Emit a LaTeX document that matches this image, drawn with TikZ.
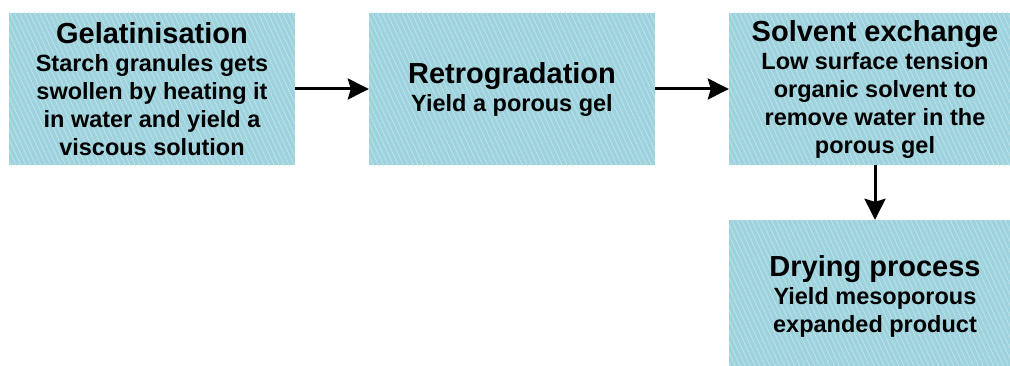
\documentclass[tikz,border=0pt]{standalone}
\usepackage{fontspec}
\setmainfont{Liberation Sans}
\usetikzlibrary{arrows.meta,patterns.meta}
\definecolor{boxfill}{HTML}{9ED3DE}
\newcommand\stagetitle[1]{{\fontsize{29}{32}\selectfont #1}}
\tikzset{
  stage/.style={fill=boxfill,
    postaction={pattern={Lines[angle=-65,distance=4.5pt,line width=0.6pt]},pattern color=white!40!boxfill},
    minimum width=286pt, minimum height=152pt, inner sep=0pt, align=center,
    font=\bfseries\fontsize{23.5}{28}\selectfont},
  widestage/.style={stage, minimum width=292pt},
  flow/.style={line width=3pt, -{Stealth[length=21pt,width=21pt,inset=3pt]}},
}
\begin{document}
\begin{tikzpicture}[x=1pt,y=1pt]
\clip (0,0) rectangle (1010,365);
\node[stage] (g) at (152,276) {\stagetitle{Gelatinisation}\\Starch granules gets\\swollen by heating it\\in water and yield a\\viscous solution};
\node[stage] (r) at (512,276) {\stagetitle{Retrogradation}\\Yield a porous gel};
\node[widestage] (s) at (875,276) {\stagetitle{Solvent exchange}\\Low surface tension\\organic solvent to\\remove water in the\\porous gel};
\node[widestage] (d) at (875,69) {\stagetitle{Drying process}\\Yield mesoporous\\expanded product};
\draw[flow] (g) -- (r);
\draw[flow] (r) -- (s);
\draw[flow] (s) -- (d);
\end{tikzpicture}
\end{document}
